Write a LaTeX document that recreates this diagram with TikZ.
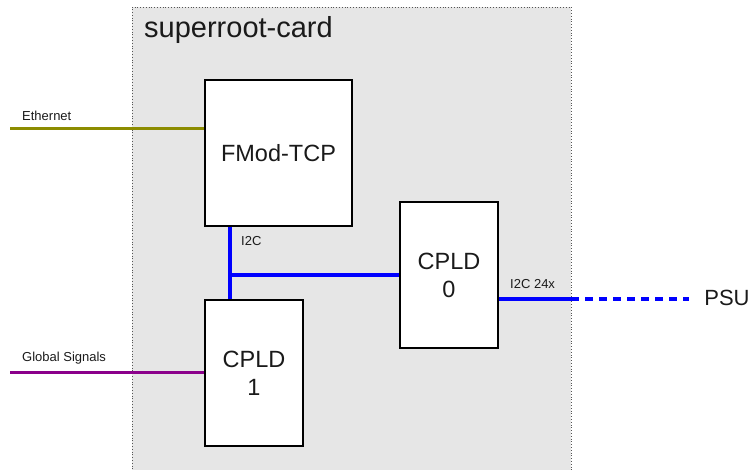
\documentclass[tikz,border=0pt]{standalone}
\usepackage{fontspec}
\setmainfont{Liberation Sans}
\definecolor{cardfill}{HTML}{E6E6E6}
\definecolor{cardedge}{HTML}{555555}
\definecolor{ethcol}{HTML}{8C8C00}
\definecolor{glbcol}{HTML}{8B008B}
\definecolor{txt}{HTML}{1A1A1A}
\begin{document}
\begin{tikzpicture}[x=1pt,y=-1pt,
  block/.style={draw=black,line width=1.3pt,fill=white,inner sep=0pt,minimum width=#1,minimum height=146pt,align=center,text=txt,font=\fontsize{23.5}{28}\selectfont},
  small/.style={text=txt,font=\fontsize{13}{15}\selectfont,inner sep=0pt,anchor=west},
  ethline/.style={draw=ethcol,line width=3pt},
  glbline/.style={draw=glbcol,line width=3pt},
  busline/.style={draw=blue,line width=3.5pt},
  busdash/.style={draw=blue,line width=3.5pt,dash pattern=on 8pt off 6pt}]
\useasboundingbox (0,0) rectangle (756,470);
% card
\fill[cardfill] (132,7) rectangle (571,472);
\draw[cardedge,line width=0.8pt,dotted] (132,472) -- (132,7) -- (571,7) -- (571,472);
\node[anchor=west,text=txt,font=\fontsize{29}{33}\selectfont,inner sep=0pt] (title) at (144,30) {superroot-card};
% blocks
\node[block=147pt] (fmod) at (278.5,153) {FMod-TCP};
\node[block=98pt] (cpldone) at (254,373) {CPLD\\1};
\node[block=98pt] (cpldzero) at (449,275) {CPLD\\0};
% coordinates
\coordinate (eth) at (10,129);
\coordinate (glb) at (10,373);
\coordinate (junc) at (230,275);
\coordinate (cardr) at (571,299);
\coordinate (psuend) at (689,299);
% connectors
\draw[ethline] (eth) -- (eth -| fmod.west);
\draw[glbline] (glb) -- (cpldone.west);
\draw[busline] (junc |- fmod.south) -- (junc |- cpldone.north);
\draw[busline] (junc) -- (cpldzero.west);
\draw[busline] (cpldzero.east |- cardr) -- (cardr);
\draw[busdash] (cardr) -- (psuend);
% labels
\node[small] (ethlbl) at (22,115.5) {Ethernet};
\node[small] (glblbl) at (22,358) {Global Signals};
\node[small] (i2clbl) at (241,241.5) {I2C};
\node[small] (i2c24) at (510,284) {I2C 24x};
\node[text=txt,font=\fontsize{22}{26}\selectfont,inner sep=0pt] (psu) at (727,298) {PSU};
\end{tikzpicture}
\end{document}
